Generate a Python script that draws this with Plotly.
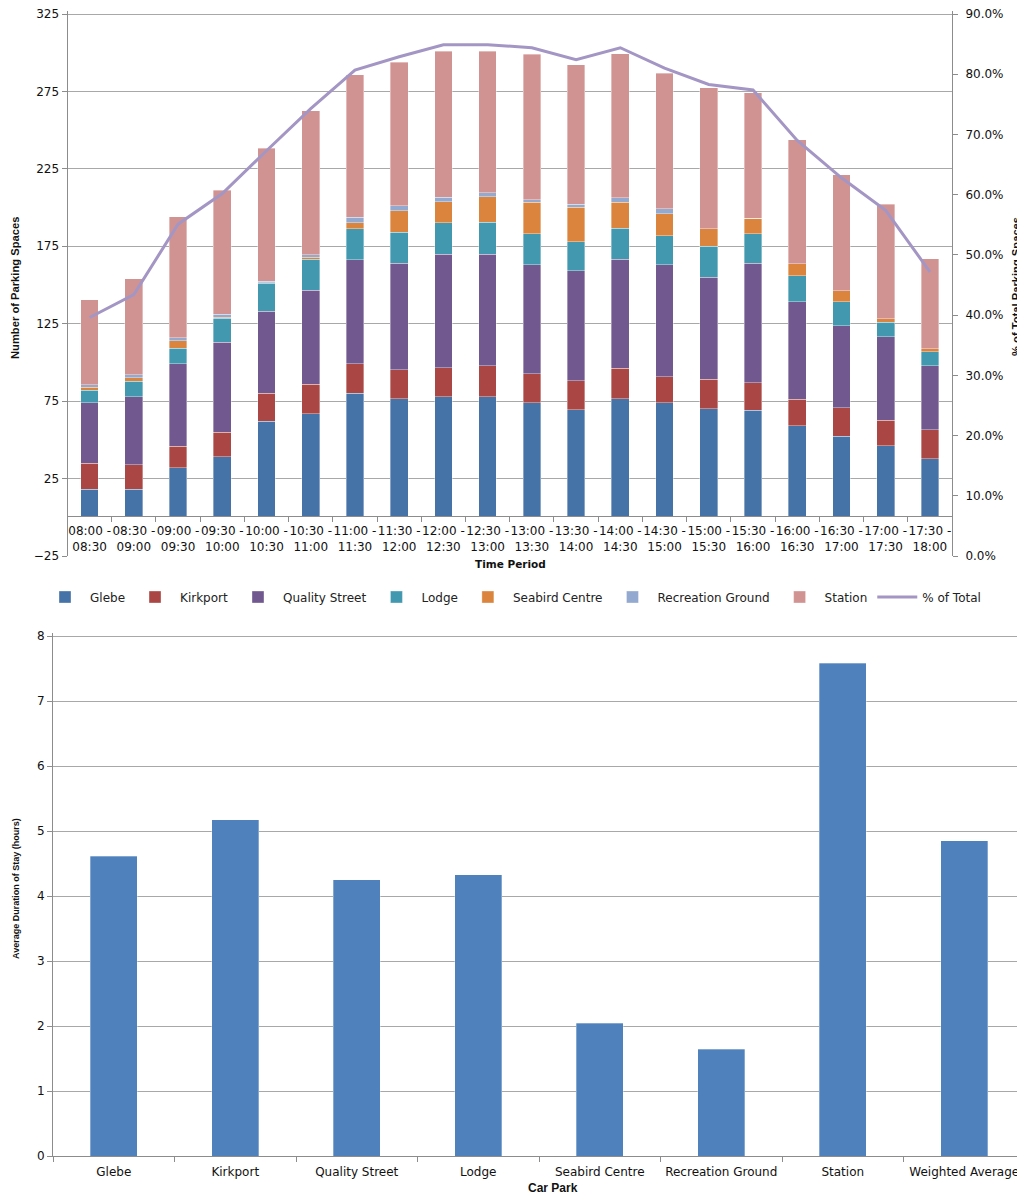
import plotly.graph_objects as go

# ---------------- Data ----------------
periods = ["08:00 -<br>08:30", "08:30 -<br>09:00", "09:00 -<br>09:30", "09:30 -<br>10:00",
           "10:00 -<br>10:30", "10:30 -<br>11:00", "11:00 -<br>11:30", "11:30 -<br>12:00",
           "12:00 -<br>12:30", "12:30 -<br>13:00", "13:00 -<br>13:30", "13:30 -<br>14:00",
           "14:00 -<br>14:30", "14:30 -<br>15:00", "15:00 -<br>15:30", "15:30 -<br>16:00",
           "16:00 -<br>16:30", "16:30 -<br>17:00", "17:00 -<br>17:30", "17:30 -<br>18:00"]

glebe = [18, 18, 32, 39, 62, 67, 80, 76.5, 78, 78, 74, 69.3, 76.7, 74, 70, 69, 59, 52.3, 46.3, 37.9]
kirkport = [17, 16, 14, 16, 18, 19, 19.3, 18.7, 18.7, 20, 18.7, 19, 19.4, 16.8, 19.2, 18, 17.3, 18.5, 16.5, 18.5]
quality_street = [39, 44, 53, 58, 53, 60.5, 67, 69, 73, 72, 70.5, 71, 70.5, 72.4, 65.7, 77, 63, 53, 53.7, 41.4]
lodge = [8, 10, 10, 15.6, 18, 20, 20, 20, 20.6, 20.6, 20, 18.7, 20, 18.7, 20, 19.2, 16.7, 15.3, 9.6, 9.1]
seabird = [2, 2, 5, 0.5, 0.3, 1.5, 4, 13.6, 13.4, 16.3, 20.4, 22.3, 16.8, 14.2, 11.5, 9.8, 7.7, 7.2, 2, 2]
recreation = [1.5, 2, 2, 2, 1, 1.5, 3.4, 3.4, 3.1, 2.6, 1.4, 2, 2.9, 3.1, 0, 0, 0, 0, 0, 0]
station = [55, 62, 78, 80, 86, 93, 92, 92.6, 94, 91.6, 94, 90, 93, 87.7, 91, 81, 80, 75, 74, 58]
pct_total = [0.396, 0.434, 0.551, 0.602, 0.673, 0.743, 0.807, 0.829, 0.849, 0.849, 0.844, 0.824,
             0.844, 0.810, 0.783, 0.774, 0.690, 0.628, 0.574, 0.472]

left_ticks = [-25, 25, 75, 125, 175, 225, 275, 325]
right_ticks = [0.0, 0.1, 0.2, 0.3, 0.4, 0.5, 0.6, 0.7, 0.8, 0.9]

car_parks = ["Glebe", "Kirkport", "Quality Street", "Lodge", "Seabird Centre",
             "Recreation Ground", "Station", "Weighted Average"]
avg_stay = [4.61, 5.17, 4.25, 4.33, 2.04, 1.64, 7.58, 4.85]

# ---------------- Styling ----------------
OFF = 8  # page body margin
W, H = 1025 - OFF, 1195 - OFF
NARROW = "Liberation Sans Narrow, Arial Narrow, sans-serif"
WIDE = "DejaVu Sans, Verdana, sans-serif"
GRID = "#A8A8A8"
AXIS = "#8C8C8C"


def px_x(p):
    return (p - OFF) / W


def px_y(p):
    return 1 - (p - OFF) / H


fig = go.Figure()

series = [
    ("Glebe", glebe, "#4572A7"),
    ("Kirkport", kirkport, "#AA4643"),
    ("Quality Street", quality_street, "#71588F"),
    ("Lodge", lodge, "#4198AF"),
    ("Seabird Centre", seabird, "#DB843D"),
    ("Recreation Ground", recreation, "#93A9CF"),
    ("Station", station, "#D19392"),
]
for name, vals, col in series:
    fig.add_trace(go.Bar(
        x=periods, y=vals, name=name,
        marker=dict(color=col, line=dict(color="rgba(255,255,255,0.6)", width=0.6)),
        width=0.4, xaxis="x", yaxis="y"))

fig.add_trace(go.Scatter(
    x=periods, y=pct_total, name="% of Total", mode="lines",
    line=dict(color="#A396C4", width=3), xaxis="x", yaxis="y2"))

fig.add_trace(go.Bar(
    x=car_parks, y=avg_stay, name="Average Duration", showlegend=False,
    marker=dict(color="#4F81BD", line=dict(color="rgba(255,255,255,0.5)", width=0.6)),
    width=0.385, xaxis="x3", yaxis="y3"))

# top plot: -25 at y=556, 325 at y=14 -> extend a little above 325 so its gridline shows
top_dom = [px_y(556), px_y(11)]
bot_dom = [px_y(1156), px_y(633)]
tickf = dict(family=WIDE, size=12, color="#111")

fig.update_layout(
    width=W, height=H,
    margin=dict(l=0, r=0, t=0, b=0),
    paper_bgcolor="white", plot_bgcolor="white",
    barmode="stack",
    showlegend=True,
    legend=dict(orientation="h", x=px_x(513), xanchor="center", y=px_y(597), yanchor="middle",
                font=dict(family=WIDE, size=12, color="#222"), traceorder="normal",
                itemwidth=40, tracegroupgap=0),
    xaxis=dict(domain=[px_x(67.5), px_x(952)], anchor="free", position=px_y(516),
               type="category", showline=True, linecolor=AXIS, linewidth=1,
               ticks="outside", tickson="boundaries", ticklen=5, tickcolor=AXIS,
               tickfont=tickf, showgrid=False, automargin=False, tickangle=0,
               ticklabelstandoff=4),
    yaxis=dict(domain=top_dom, range=[-25, 325 + 3 * 350 / 542], tickmode="array", tickvals=left_ticks,
               showline=True, linecolor=AXIS, ticks="outside", ticklen=5, tickcolor=AXIS,
               showgrid=True, gridcolor=GRID, gridwidth=1, zeroline=False,
               tickfont=tickf, automargin=False, ticklabeloverflow="allow"),
    yaxis2=dict(domain=top_dom, overlaying="y", side="right", anchor="x",
                range=[0, 0.9 + 3 * 0.9 / 540], tickmode="array", tickvals=right_ticks, tickformat=".1%",
                showline=True, linecolor=AXIS, ticks="outside", ticklen=5, tickcolor=AXIS,
                showgrid=False, zeroline=False, tickfont=tickf, automargin=False,
                ticklabelstandoff=5, ticklabeloverflow="allow"),
    xaxis3=dict(domain=[px_x(53), 1.0], anchor="y3", type="category",
                showline=True, linecolor=AXIS, ticks="outside", tickson="boundaries",
                ticklen=5, tickcolor=AXIS, showgrid=False,
                tickfont=tickf, automargin=False, ticklabelstandoff=5),
    yaxis3=dict(domain=bot_dom, anchor="x3", range=[0, 8 + 3 / 65], tickmode="array",
                tickvals=[0, 1, 2, 3, 4, 5, 6, 7, 8],
                showline=True, linecolor=AXIS, ticks="outside", ticklen=5, tickcolor=AXIS,
                showgrid=True, gridcolor=GRID, zeroline=False,
                tickfont=tickf, automargin=False, ticklabeloverflow="allow"),
)

annos = [
    dict(text="<b>Number of Parking Spaces</b>", x=px_x(15), y=px_y(288), textangle=-90,
         font=dict(family=NARROW, size=11.2, color="#111")),
    dict(text="<b>% of Total Parking Spaces</b>", x=px_x(1016), y=px_y(287), textangle=-90,
         font=dict(family=NARROW, size=11.2, color="#111")),
    dict(text="<b>Time Period</b>", x=px_x(510), y=px_y(564),
         font=dict(family=WIDE, size=10.5, color="#111")),
    dict(text="<b>Average Duration of Stay (hours)</b>", x=px_x(16), y=px_y(889), textangle=-90,
         font=dict(family=NARROW, size=9, color="#111")),
    dict(text="<b>Car Park</b>", x=px_x(553), y=px_y(1188),
         font=dict(family=NARROW, size=12, color="#111")),
]
for a in annos:
    fig.add_annotation(xref="paper", yref="paper", showarrow=False,
                       xanchor="center", yanchor="middle", **a)

fig.write_html("out.html")
